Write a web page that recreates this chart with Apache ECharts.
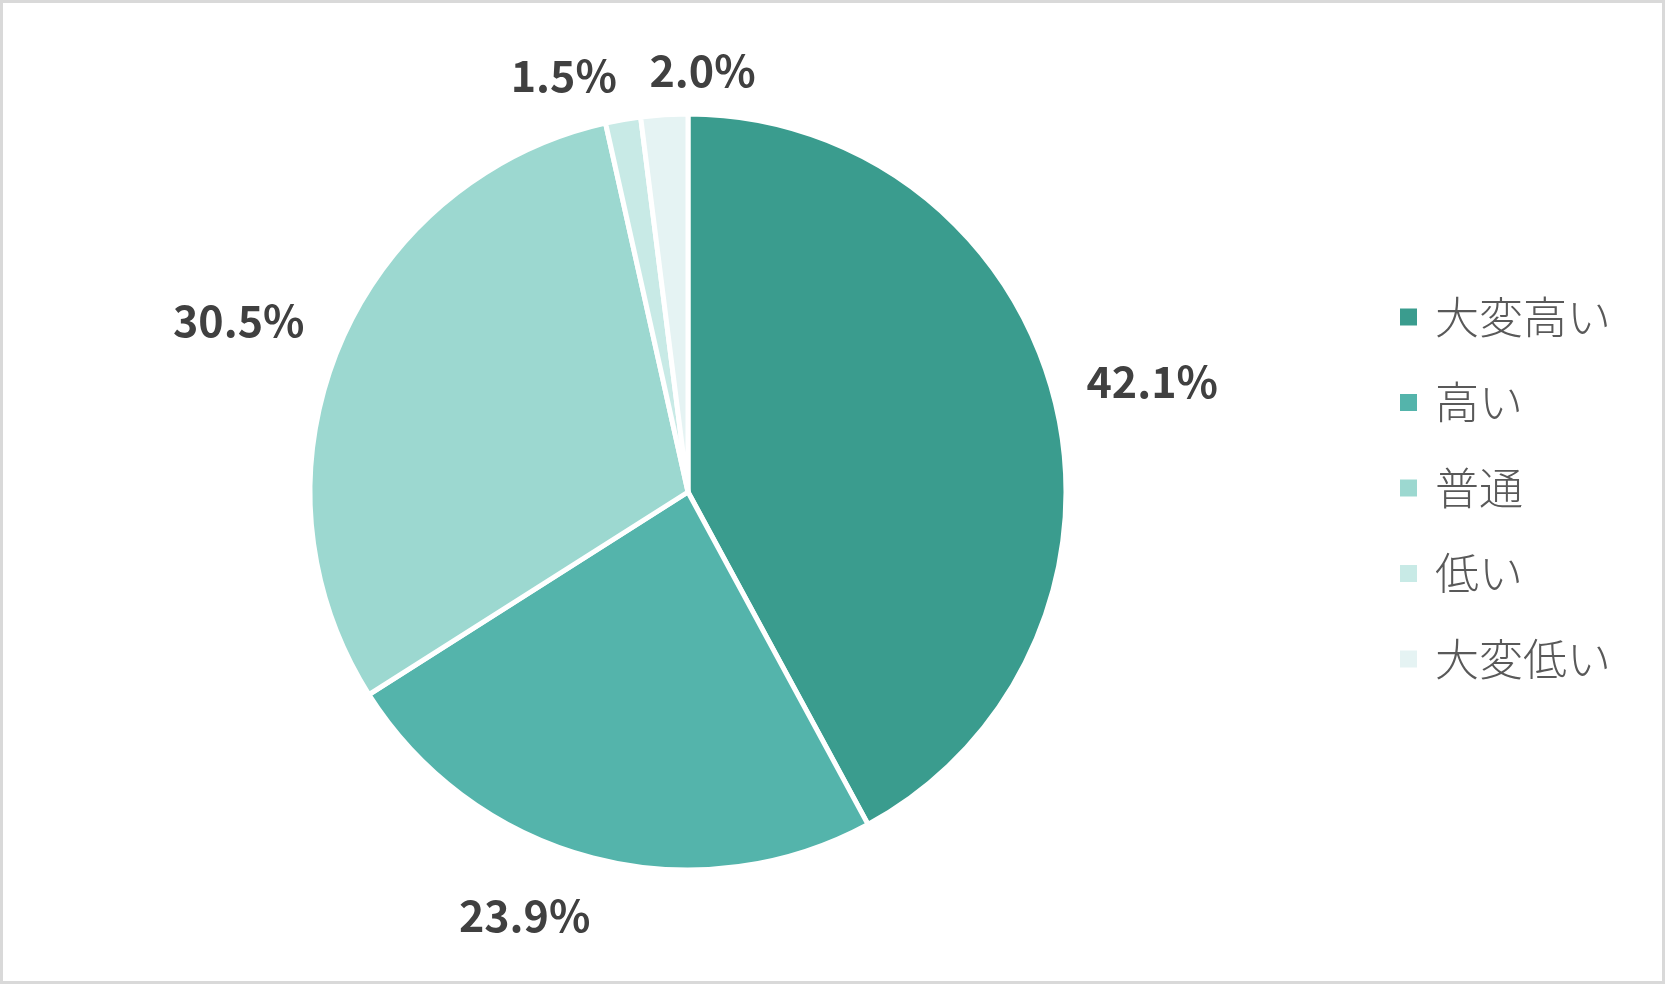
<!DOCTYPE html>
<html>
<head>
<meta charset="utf-8">
<script src="https://cdn.jsdelivr.net/npm/echarts@6/dist/echarts.min.js"></script>
<style>
  html, body { margin: 0; padding: 0; background: #fff; }
  #chart { width: 1665px; height: 984px; box-sizing: border-box; border: 3px solid #d9d9d9; }
</style>
</head>
<body>
<div id="chart"></div>
<script>
const categories = ['大変高い', '高い', '普通', '低い', '大変低い'];
const values = [42.1, 23.9, 30.5, 1.5, 2.0];
const colors = ['#3A9C8E', '#54B4AB', '#9CD8D0', '#C8EAE6', '#E5F3F3'];
// small label nudges (px) to mimic the reference's label placement
const labelNudge = [[-3, 8], [-50, -12], [-4, 13], [-48, 20], [42, 16]];

const chart = echarts.init(document.getElementById('chart'), null, { renderer: 'canvas' });

const option = {
  animation: false,
  color: colors,
  legend: {
    orient: 'vertical',
    left: 1390,
    top: 287,
    icon: 'rect',
    itemWidth: 19,
    itemHeight: 19,
    itemGap: 41.5,
    textStyle: {
      fontFamily: '"Noto Sans CJK JP", sans-serif',
      fontSize: 44,
      fontWeight: 300,
      lineHeight: 44,
      color: '#595959',
      padding: [0, 0, 0, 12]
    },
    data: categories
  },
  series: [{
    type: 'pie',
    center: [685, 489],
    radius: 378,
    startAngle: 90,
    clockwise: true,
    avoidLabelOverlap: false,
    itemStyle: { borderColor: '#ffffff', borderWidth: 5 },
    label: {
      show: true,
      position: 'outside',
      formatter: p => p.value.toFixed(1) + '%',
      fontFamily: '"Noto Sans CJK JP", sans-serif',
      fontWeight: 'bold',
      fontSize: 43,
      color: '#404040'
    },
    labelLine: { show: true, length: 35, length2: 0, lineStyle: { width: 0, opacity: 0 } },
    labelLayout: function (params) {
      const pts = params.labelLinePoints;
      if (!pts) return {};
      const p0 = pts[0], p1 = pts[1];
      let ux = p1[0] - p0[0], uy = p1[1] - p0[1];
      const L = Math.sqrt(ux * ux + uy * uy) || 1;
      ux /= L; uy /= L;
      const w = params.labelRect.width, h = params.labelRect.height;
      const off = Math.abs(ux) * w / 2 + Math.abs(uy) * h / 2;
      const n = labelNudge[params.dataIndex] || [0, 0];
      return {
        x: p1[0] + ux * off + n[0],
        y: p1[1] + uy * off + n[1],
        align: 'center',
        verticalAlign: 'middle'
      };
    },
    emphasis: { disabled: true },
    data: categories.map((c, i) => ({ name: c, value: values[i] }))
  }]
};

chart.setOption(option);
</script>
</body>
</html>
